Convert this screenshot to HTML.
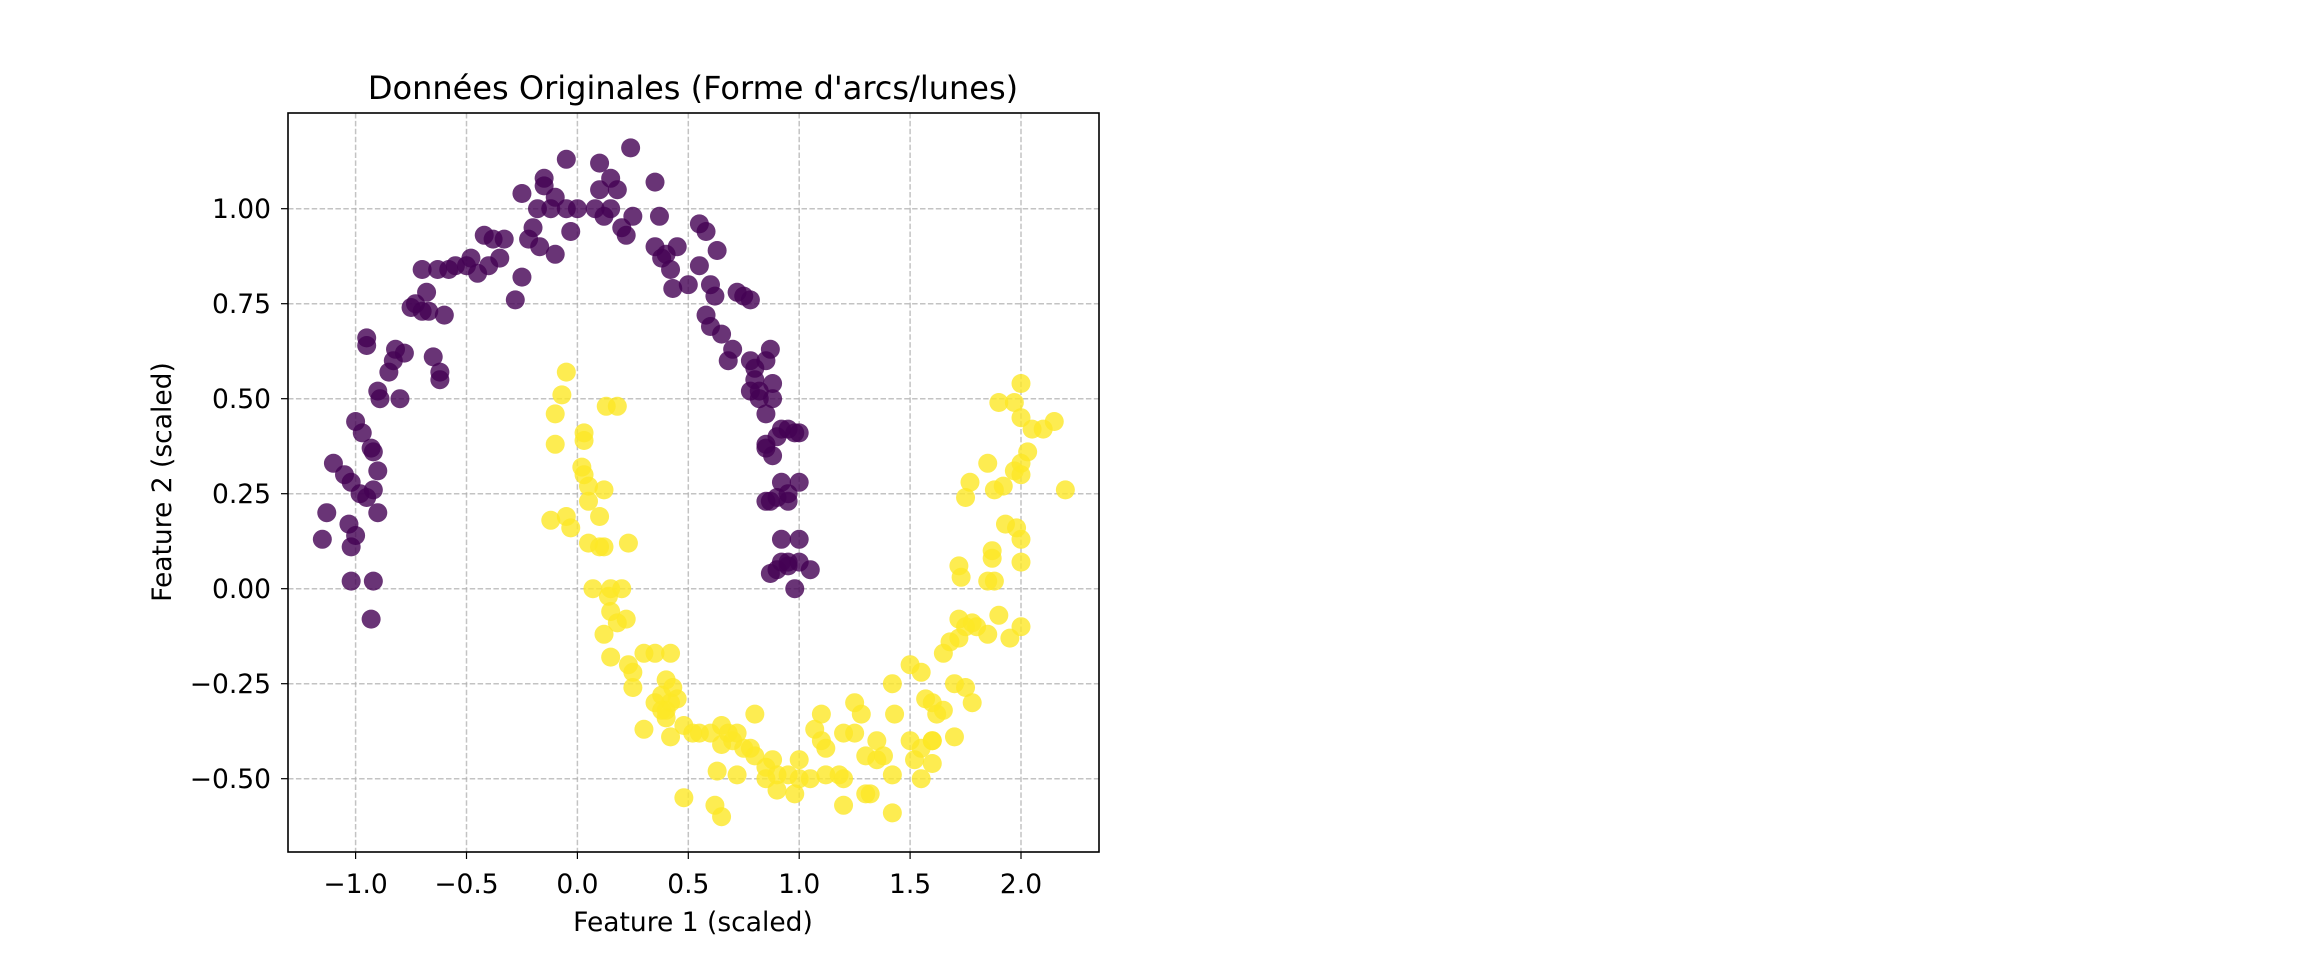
<!DOCTYPE html>
<html><head><meta charset="utf-8"><style>
html,body{margin:0;padding:0;background:#fff;}
svg text{font-family:"DejaVu Sans","Liberation Sans",sans-serif;fill:#000;}
</style></head><body>
<svg id="s" width="2304" height="960" xmlns="http://www.w3.org/2000/svg">
<rect width="2304" height="960" fill="#fff"/>
<g id="grid"></g>
<g id="pts"></g>
<rect x="288" y="113" width="811" height="739" fill="none" stroke="#000" stroke-width="1.6"/>
<g id="ticks"></g>
<text x="693" y="99" font-size="32" text-anchor="middle">Données Originales (Forme d'arcs/lunes)</text>
<text x="693" y="931" font-size="26.5" text-anchor="middle">Feature 1 (scaled)</text>
<text transform="translate(171,482) rotate(-90)" font-size="26.5" text-anchor="middle">Feature 2 (scaled)</text>
</svg>
<script>
const X=x=>577.4+x*221.8, Y=y=>588.7-y*380;
const NS="http://www.w3.org/2000/svg";
function el(p,t,a,txt){const e=document.createElementNS(NS,t);for(const k in a)e.setAttribute(k,a[k]);if(txt)e.textContent=txt;p.appendChild(e);return e;}
const g=document.getElementById('grid'),tk=document.getElementById('ticks');
[-1,-0.5,0,0.5,1,1.5,2].forEach(v=>{const x=X(v);
el(g,'line',{x1:x,x2:x,y1:113,y2:852,stroke:'#b0b0b0','stroke-width':1.5,'stroke-dasharray':'5.5,2.4','opacity':0.75});
el(tk,'line',{x1:x,x2:x,y1:852,y2:859,stroke:'#000','stroke-width':1.2});
el(tk,'text',{x:x,y:893,'font-size':26.5,'text-anchor':'middle'},(v<0?'\u2212':'')+Math.abs(v).toFixed(1));});
[-0.5,-0.25,0,0.25,0.5,0.75,1].forEach(v=>{const y=Y(v);
el(g,'line',{x1:288,x2:1099,y1:y,y2:y,stroke:'#b0b0b0','stroke-width':1.5,'stroke-dasharray':'5.5,2.4','opacity':0.75});
el(tk,'line',{x1:281,x2:288,y1:y,y2:y,stroke:'#000','stroke-width':1.2});
el(tk,'text',{x:271,y:y+9.5,'font-size':26.5,'text-anchor':'end'},(v<0?'\u2212':'')+Math.abs(v).toFixed(2));});
const P=[[-1.15,0.13],[-1.13,0.2],[-1.1,0.33],[-1.05,0.3],[-1.02,0.28],[-1.03,0.17],[-1.02,0.11],[-1.0,0.14],[-1.02,0.02],[-1.0,0.44],[-0.98,0.25],[-0.97,0.41],[-0.95,0.24],[-0.93,0.37],[-0.92,0.36],[-0.92,0.26],[-0.92,0.02],[-0.93,-0.08],[-0.9,0.31],[-0.9,0.2],[-0.95,0.64],[-0.95,0.66],[-0.9,0.52],[-0.89,0.5],[-0.85,0.57],[-0.83,0.6],[-0.82,0.63],[-0.8,0.5],[-0.78,0.62],[-0.75,0.74],[-0.73,0.75],[-0.7,0.84],[-0.7,0.73],[-0.68,0.78],[-0.67,0.73],[-0.65,0.61],[-0.63,0.84],[-0.62,0.57],[-0.62,0.55],[-0.6,0.72],[-0.58,0.84],[-0.55,0.85],[-0.5,0.85],[-0.48,0.87],[-0.45,0.83],[-0.42,0.93],[-0.4,0.85],[-0.38,0.92],[-0.35,0.87],[-0.33,0.92],[-0.28,0.76],[-0.25,0.82],[-0.25,1.04],[-0.22,0.92],[-0.2,0.95],[-0.18,1.0],[-0.17,0.9],[-0.15,1.06],[-0.15,1.08],[-0.12,1.0],[-0.1,0.88],[-0.1,1.03],[-0.05,1.13],[-0.05,1.0],[-0.03,0.94],[0.0,1.0],[0.08,1.0],[0.1,1.12],[0.1,1.05],[0.12,0.98],[0.15,1.08],[0.15,1.0],[0.18,1.05],[0.2,0.95],[0.22,0.93],[0.24,1.16],[0.25,0.98],[0.35,1.07],[0.37,0.98],[0.35,0.9],[0.38,0.87],[0.4,0.88],[0.42,0.84],[0.43,0.79],[0.45,0.9],[0.5,0.8],[0.55,0.96],[0.55,0.85],[0.58,0.94],[0.6,0.8],[0.62,0.77],[0.63,0.89],[0.58,0.72],[0.6,0.69],[0.65,0.67],[0.68,0.6],[0.7,0.63],[0.72,0.78],[0.75,0.77],[0.78,0.76],[0.78,0.6],[0.8,0.58],[0.8,0.55],[0.82,0.52],[0.78,0.52],[0.82,0.5],[0.85,0.6],[0.87,0.63],[0.85,0.46],[0.88,0.54],[0.88,0.5],[0.85,0.38],[0.85,0.37],[0.9,0.4],[0.88,0.35],[0.92,0.42],[0.95,0.42],[0.98,0.41],[1.0,0.41],[0.92,0.28],[0.95,0.25],[0.9,0.24],[0.85,0.23],[0.87,0.23],[0.95,0.23],[1.0,0.28],[0.92,0.13],[0.9,0.05],[0.92,0.07],[0.95,0.06],[1.0,0.07],[1.0,0.13],[0.98,0.0],[0.95,0.07],[1.05,0.05],[0.87,0.04]];
const Q=[[-0.05,0.57],[-0.07,0.51],[-0.1,0.46],[-0.1,0.38],[0.03,0.41],[0.03,0.39],[0.13,0.48],[0.18,0.48],[0.02,0.32],[0.03,0.3],[0.05,0.27],[0.05,0.23],[0.12,0.26],[-0.12,0.18],[-0.05,0.19],[-0.03,0.16],[0.1,0.19],[0.05,0.12],[0.1,0.11],[0.12,0.11],[0.23,0.12],[0.07,0.0],[0.15,0.0],[0.2,0.0],[0.14,-0.02],[0.15,-0.06],[0.18,-0.09],[0.22,-0.08],[0.12,-0.12],[0.15,-0.18],[0.23,-0.2],[0.25,-0.22],[0.25,-0.26],[0.3,-0.17],[0.35,-0.17],[0.42,-0.17],[0.4,-0.24],[0.38,-0.28],[0.4,-0.32],[0.42,-0.3],[0.43,-0.26],[0.48,-0.36],[0.45,-0.29],[0.4,-0.34],[0.35,-0.3],[0.38,-0.32],[0.3,-0.37],[0.42,-0.39],[0.55,-0.38],[0.48,-0.55],[0.6,-0.38],[0.65,-0.36],[0.68,-0.38],[0.65,-0.41],[0.7,-0.4],[0.72,-0.38],[0.75,-0.42],[0.8,-0.33],[0.78,-0.42],[0.8,-0.44],[0.85,-0.47],[0.88,-0.45],[0.85,-0.5],[0.9,-0.49],[0.95,-0.49],[0.9,-0.53],[0.98,-0.54],[1.0,-0.45],[1.0,-0.5],[1.05,-0.5],[1.07,-0.37],[1.1,-0.4],[1.1,-0.33],[1.12,-0.42],[1.12,-0.49],[1.2,-0.38],[1.18,-0.49],[1.2,-0.5],[1.25,-0.3],[1.28,-0.33],[1.25,-0.38],[1.3,-0.44],[1.32,-0.54],[1.35,-0.4],[1.35,-0.45],[1.38,-0.44],[1.42,-0.25],[1.43,-0.33],[1.42,-0.49],[1.42,-0.59],[1.5,-0.2],[1.55,-0.22],[1.5,-0.4],[1.52,-0.45],[1.55,-0.42],[1.55,-0.5],[1.6,-0.46],[1.57,-0.29],[1.6,-0.3],[1.62,-0.33],[1.65,-0.32],[1.6,-0.4],[1.7,-0.39],[1.68,-0.14],[1.72,-0.13],[1.75,-0.1],[1.78,-0.09],[1.8,-0.1],[1.72,-0.08],[1.65,-0.17],[1.7,-0.25],[1.75,-0.26],[1.78,-0.3],[1.85,-0.12],[1.9,-0.07],[1.95,-0.13],[2.0,-0.1],[1.72,0.06],[1.73,0.03],[1.85,0.02],[1.88,0.02],[1.87,0.1],[1.87,0.08],[1.93,0.17],[1.98,0.16],[2.0,0.13],[2.0,0.07],[1.75,0.24],[1.77,0.28],[1.85,0.33],[1.88,0.26],[1.92,0.27],[1.97,0.31],[2.0,0.33],[2.03,0.36],[2.05,0.42],[2.1,0.42],[2.15,0.44],[2.2,0.26],[1.97,0.49],[2.0,0.54],[2.0,0.45],[1.9,0.49],[2.0,0.3],[0.63,-0.48],[0.62,-0.57],[0.65,-0.6],[0.72,-0.49],[1.2,-0.57],[1.3,-0.54],[1.6,-0.4],[0.52,-0.38]];
const pg=document.getElementById('pts');
P.forEach(p=>el(pg,'circle',{cx:X(p[0]),cy:Y(p[1]),r:9.5,fill:'#440154','fill-opacity':0.8}));
Q.forEach(p=>el(pg,'circle',{cx:X(p[0]),cy:Y(p[1]),r:9.5,fill:'#fde725','fill-opacity':0.8}));
</script>
</body></html>
